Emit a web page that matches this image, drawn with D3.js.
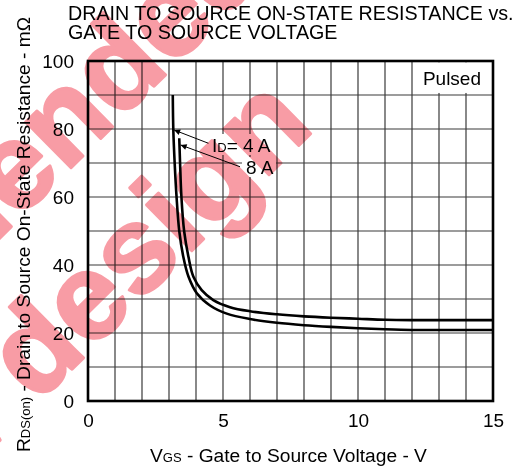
<!DOCTYPE html>
<html>
<head>
<meta charset="utf-8">
<script src="https://cdn.jsdelivr.net/npm/d3@7"></script>
<style>
  html, body { margin: 0; padding: 0; background: #fff; }
  svg { display: block; }
  text { font-family: "Liberation Sans", Arial, sans-serif; }
</style>
</head>
<body>
<svg id="chart" width="521" height="470"></svg>
<script>
// ---- data ----
const xTicks = [0, 5, 10, 15];
const yTicks = [0, 20, 40, 60, 80, 100];
const xGrid = [1,2,3,4,5,6,7,8,9,10,11,12,13,14];
const yGrid = [10,20,30,40,50,60,70,80,90];

const vgsId4 = [3.14, 3.16, 3.21, 3.28, 3.38, 3.53, 3.72, 4.03, 4.52, 5.14, 6, 7, 8, 9, 10, 11, 12, 13, 14, 15];
const rdsId4 = [90, 79.7, 70, 60, 50, 42.4, 36.6, 31.7, 28.1, 25.7, 24.1, 23.0, 22.3, 21.8, 21.4, 21.1, 20.9, 20.9, 20.9, 20.9];
const vgsId8 = [3.38, 3.41, 3.46, 3.56, 3.72, 3.90, 4.21, 4.64, 5.26, 6, 7, 8, 9, 10, 11, 12, 13, 14, 15];
const rdsId8 = [77.3, 70, 60, 50, 42.4, 36.6, 32.6, 29.7, 27.6, 26.4, 25.5, 24.9, 24.5, 24.2, 23.9, 23.8, 23.8, 23.8, 23.8];

// annotation arrows: [tailV, tailR, tipV, tipR]
const arrowId4 = [4.46, 75.8, 3.19, 79.7];
const arrowId8 = [5.63, 68.9, 3.43, 75.3];

const svg = d3.select("#chart");
svg.append("rect").attr("width", 521).attr("height", 470).attr("fill", "#fff");

const x = d3.scaleLinear().domain([0, 15]).range([88, 493]);
const y = d3.scaleLinear().domain([0, 100]).range([401, 61]);

// grid
const grid = svg.append("g").attr("stroke", "#3a3a3a").attr("stroke-width", 1.2);
grid.selectAll("line.v").data(xGrid).join("line")
  .attr("x1", d => x(d)).attr("x2", d => x(d)).attr("y1", y(0)).attr("y2", y(100));
grid.selectAll("line.h").data(yGrid).join("line")
  .attr("y1", d => y(d)).attr("y2", d => y(d)).attr("x1", x(0)).attr("x2", x(15));

// white label boxes
const boxes = [
  [x(12.3), y(99.6), x(15) - x(12.3) - 1.5, y(90.6) - y(99.6)],
  [209, 134, 67, 21],
  [242, 157, 34, 20]
];
svg.append("g").selectAll("rect").data(boxes).join("rect")
  .attr("x", d => d[0]).attr("y", d => d[1]).attr("width", d => d[2]).attr("height", d => d[3])
  .attr("fill", "#fff");

// frame
svg.append("rect").attr("x", x(0)).attr("y", y(100))
  .attr("width", x(15) - x(0)).attr("height", y(0) - y(100))
  .attr("fill", "none").attr("stroke", "#000").attr("stroke-width", 2.6);

// axes
const yAxis = svg.append("g").attr("transform", `translate(${x(0)},0)`)
  .call(d3.axisLeft(y).tickValues(yTicks).tickSize(0).tickPadding(14));
const xAxis = svg.append("g").attr("transform", `translate(0,${y(0)})`)
  .call(d3.axisBottom(x).tickValues(xTicks).tickSize(0).tickPadding(13));
[yAxis, xAxis].forEach(a => {
  a.select(".domain").remove();
  a.selectAll("text").attr("font-size", 19).attr("fill", "#000")
    .attr("font-family", '"Liberation Sans", Arial, sans-serif');
});

// curves
const line = d3.line().x(d => x(d[0])).y(d => y(d[1])).curve(d3.curveCatmullRom.alpha(0.5));
[[vgsId4, rdsId4], [vgsId8, rdsId8]].forEach(([vx, vy]) => {
  svg.append("path").datum(vx.map((v, i) => [v, vy[i]]))
    .attr("d", line).attr("fill", "none").attr("stroke", "#000").attr("stroke-width", 2.6);
});

// arrows
svg.append("defs").append("marker").attr("id", "ah")
  .attr("viewBox", "0 0 10 10").attr("refX", 10).attr("refY", 5)
  .attr("markerWidth", 9).attr("markerHeight", 6).attr("markerUnits", "userSpaceOnUse")
  .attr("orient", "auto")
  .append("path").attr("d", "M0,0 L10,5 L0,10 z").attr("fill", "#000");
[arrowId4, arrowId8].forEach(a => {
  svg.append("line").attr("x1", x(a[0])).attr("y1", y(a[1])).attr("x2", x(a[2])).attr("y2", y(a[3]))
    .attr("stroke", "#000").attr("stroke-width", 1).attr("marker-end", "url(#ah)");
});

// annotation labels
const t1 = svg.append("text").attr("x", 212).attr("y", 152).attr("font-size", 19);
t1.append("tspan").text("I");
t1.append("tspan").attr("font-size", 13).text("D");
t1.append("tspan").text("= 4 A");
svg.append("text").attr("x", 246).attr("y", 173.5).attr("font-size", 19).text("8 A");
svg.append("text").attr("x", 481).attr("y", 84.5).attr("font-size", 19).attr("text-anchor", "end").text("Pulsed");

// title
svg.append("text").attr("x", 68).attr("y", 20).attr("font-size", 19.7).text("DRAIN TO SOURCE ON-STATE RESISTANCE vs.");
svg.append("text").attr("x", 68).attr("y", 38.5).attr("font-size", 19.7).text("GATE TO SOURCE VOLTAGE");

// x label
const xl = svg.append("text").attr("x", 150).attr("y", 461.5).attr("font-size", 19.2);
xl.append("tspan").text("V");
xl.append("tspan").attr("font-size", 13).text("GS");
xl.append("tspan").text(" - Gate to Source Voltage - V");

// y label
const yl = svg.append("text").attr("transform", "translate(30,452) rotate(-90)").attr("font-size", 19.2);
yl.append("tspan").text("R");
yl.append("tspan").attr("font-size", 13).text("DS(on)");
yl.append("tspan").text(" - Drain to Source On-State Resistance - m\u03A9");

// watermark (multiplied over the drawing)
const wm = svg.append("g").style("mix-blend-mode", "multiply")
  .attr("fill", "#f89ca5").attr("stroke", "#f89ca5").attr("stroke-width", 3)
  .attr("stroke-linejoin", "round")
  .attr("font-weight", "bold").attr("font-family", '"Liberation Sans", Arial, sans-serif');
const WM_ANGLE = -44.6, WM_SIZE = 122;
function placeWM(str, i0, i1, target) {
  // aligns the midpoint between the centres of letters i0 and i1 to target
  const t = wm.append("text").attr("font-size", WM_SIZE).attr("x", 0).attr("y", 0).text(str);
  const n = t.node();
  const e0 = n.getExtentOfChar(i0), e1 = n.getExtentOfChar(i1);
  const cx = ((e0.x + e0.width / 2) + (e1.x + e1.width / 2)) / 2;
  const cy = -0.27 * WM_SIZE;
  t.attr("transform", `translate(${target[0]},${target[1]}) rotate(${WM_ANGLE}) translate(${-cx},${-cy})`);
}
placeWM("Not recommended for", 10, 13, [95, 98]);
placeWM("new design", 4, 9, [153, 243]);
</script>
</body>
</html>
